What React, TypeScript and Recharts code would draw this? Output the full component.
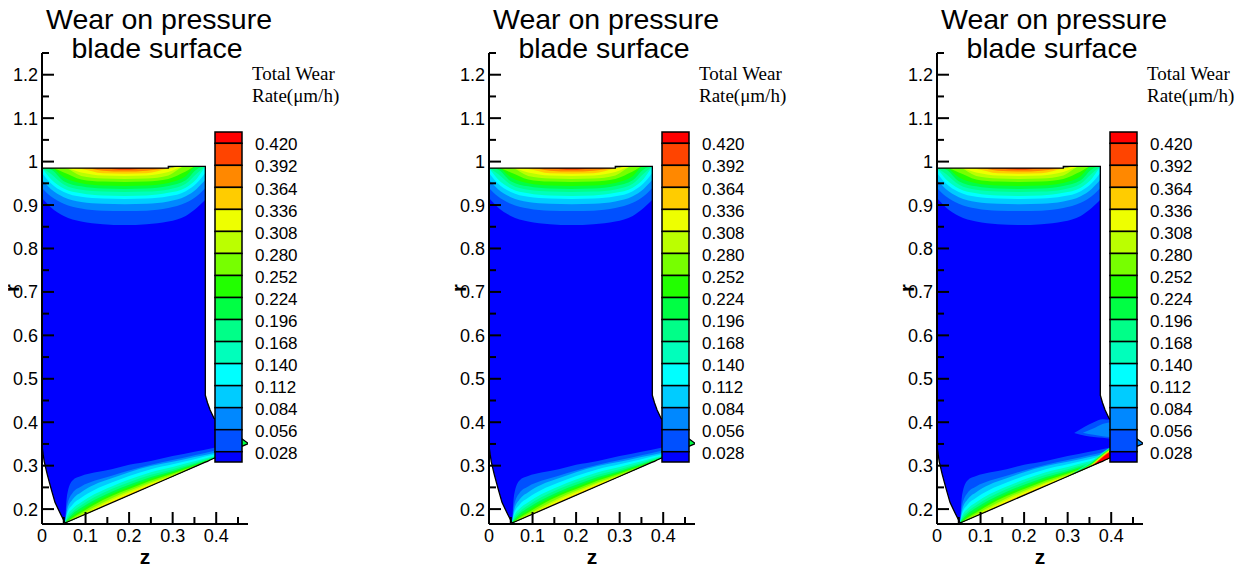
import { Area, ComposedChart, XAxis, YAxis } from "recharts"

// colour of each band, from below 0.028 up to above 0.420
const bandColors = [
  "#0000ff", "#0050ff", "#0088ff", "#00ccff", "#00ffff", "#00ffbb", "#00ff88", "#00ff44",
  "#22ff00", "#77ff00", "#bbff00", "#eeff00", "#ffcc00", "#ff8800", "#ff4400", "#ff0000",
]
const levelLabels = ["0.028", "0.056", "0.084", "0.112", "0.140", "0.168", "0.196", "0.224", "0.252", "0.280", "0.308", "0.336", "0.364", "0.392", "0.420"]

const xTicks = [0, 0.05, 0.1, 0.15, 0.2, 0.25, 0.3, 0.35, 0.4, 0.45]
const yTicks = [0.2, 0.25, 0.3, 0.35, 0.4, 0.45, 0.5, 0.55, 0.6, 0.65, 0.7, 0.75, 0.8, 0.85, 0.9, 0.95, 1, 1.05, 1.1, 1.15, 1.2, 1.25]

// blade outline (z, lower edge, upper edge)
const bladeZ = [0, 0.005, 0.012, 0.02, 0.03, 0.042, 0.053, 0.29, 0.29, 0.375, 0.375, 0.38, 0.386, 0.395, 0.474]
const bladeLow = [0.345, 0.31, 0.28, 0.25, 0.215, 0.19, 0.168, 0.271, 0.271, 0.308, 0.308, 0.31, 0.313, 0.317, 0.351]
const bladeHigh = [0.985, 0.985, 0.985, 0.985, 0.985, 0.985, 0.985, 0.985, 0.989, 0.989, 0.462, 0.445, 0.428, 0.409, 0.351]

// contour levels under the top edge
const topZ = [0, 0.02, 0.05, 0.09, 0.14, 0.19, 0.24, 0.29, 0.33, 0.355, 0.375]
const topEdge = [0.985, 0.985, 0.985, 0.985, 0.985, 0.985, 0.985, 0.985, 0.989, 0.989, 0.989]
const arc028 = [0.916, 0.895, 0.875, 0.862, 0.856, 0.854, 0.856, 0.862, 0.875, 0.893, 0.912]
const arc056 = [0.939, 0.92, 0.903, 0.892, 0.887, 0.886, 0.887, 0.893, 0.905, 0.92, 0.939]
const arc084 = [0.958, 0.937, 0.918, 0.907, 0.903, 0.902, 0.903, 0.908, 0.92, 0.937, 0.958]
const arc112 = [0.974, 0.95, 0.93, 0.919, 0.915, 0.914, 0.915, 0.92, 0.932, 0.95, 0.974]
const arc140 = [0.985, 0.96, 0.938, 0.927, 0.922, 0.921, 0.922, 0.928, 0.94, 0.96, 0.989]
const arc168 = [0.985, 0.972, 0.947, 0.935, 0.931, 0.93, 0.931, 0.936, 0.949, 0.972, 0.989]
const arc196 = [0.985, 0.982, 0.955, 0.943, 0.938, 0.937, 0.938, 0.944, 0.957, 0.982, 0.989]
const arc224 = [0.985, 0.985, 0.964, 0.95, 0.945, 0.944, 0.945, 0.951, 0.966, 0.989, 0.989]
const arc252 = [0.985, 0.985, 0.975, 0.959, 0.954, 0.953, 0.954, 0.96, 0.977, 0.989, 0.989]
const arc280 = [0.985, 0.985, 0.985, 0.967, 0.961, 0.96, 0.961, 0.968, 0.989, 0.989, 0.989]
const arc308 = [0.985, 0.985, 0.985, 0.975, 0.968, 0.967, 0.968, 0.976, 0.989, 0.989, 0.989]
const arc336 = [0.985, 0.985, 0.985, 0.983, 0.973, 0.972, 0.973, 0.984, 0.989, 0.989, 0.989]
const arc364 = [0.985, 0.985, 0.985, 0.985, 0.979, 0.977, 0.979, 0.985, 0.989, 0.989, 0.989]
const arc392 = [0.985, 0.985, 0.985, 0.985, 0.984, 0.981, 0.984, 0.985, 0.989, 0.989, 0.989]
const topArcs = [arc028, arc056, arc084, arc112, arc140, arc168, arc196, arc224, arc252, arc280, arc308, arc336, arc364, arc392]

// contour levels over the lower edge
const botZ = [0.053, 0.058, 0.07, 0.09, 0.12, 0.16, 0.2, 0.25, 0.3, 0.35, 0.398]
const botEdge = [0.168, 0.17, 0.175, 0.184, 0.197, 0.215, 0.232, 0.254, 0.275, 0.297, 0.318]
const low028 = [0.168, 0.235, 0.266, 0.276, 0.284, 0.292, 0.302, 0.311, 0.322, 0.332, 0.342]
const low056 = [0.168, 0.21, 0.237, 0.252, 0.265, 0.277, 0.289, 0.302, 0.313, 0.324, 0.335]
const low084 = [0.168, 0.199, 0.222, 0.239, 0.256, 0.271, 0.285, 0.299, 0.309, 0.32, 0.33]
const low112 = [0.168, 0.191, 0.21, 0.226, 0.244, 0.261, 0.276, 0.292, 0.303, 0.315, 0.326]
const low140 = [0.168, 0.185, 0.201, 0.216, 0.234, 0.252, 0.268, 0.285, 0.297, 0.31, 0.323]
const low168 = [0.168, 0.18, 0.194, 0.209, 0.227, 0.246, 0.262, 0.279, 0.292, 0.306, 0.321]
const low196 = [0.168, 0.176, 0.189, 0.203, 0.221, 0.24, 0.256, 0.274, 0.288, 0.303, 0.32]
const low224 = [0.168, 0.173, 0.184, 0.197, 0.215, 0.235, 0.251, 0.27, 0.285, 0.301, 0.319]
const low252 = [0.168, 0.171, 0.18, 0.192, 0.21, 0.23, 0.246, 0.266, 0.282, 0.299, 0.318]
const low280 = [0.168, 0.17, 0.177, 0.188, 0.205, 0.225, 0.242, 0.262, 0.279, 0.298, 0.318]
const low308 = [0.168, 0.17, 0.175, 0.185, 0.201, 0.221, 0.238, 0.259, 0.277, 0.297, 0.318]
const low336 = [0.168, 0.17, 0.175, 0.184, 0.198, 0.217, 0.235, 0.256, 0.275, 0.297, 0.318]
const lowBands = [low028, low056, low084, low112, low140, low168, low196, low224, low252, low280, low308, low336]

// tip sticking out past the colour bar; band index per case
const tipZ = [0.398, 0.43, 0.46, 0.474]
const tipLow = [0.318, 0.332, 0.345, 0.351]
const tipHigh = [0.407, 0.383, 0.361, 0.351]
const tipBand = [7, 7, 2]

// third case: plume off the trailing edge and a hot streak on the lower edge
const plumeZ = [0.315, 0.34, 0.36, 0.38, 0.398]
const plumeLow = [0.375, 0.369, 0.366, 0.364, 0.362]
const plumeHigh = [0.375, 0.39, 0.4, 0.407, 0.405]
const coreZ = [0.335, 0.36, 0.38, 0.398]
const coreLow = [0.376, 0.371, 0.368, 0.366]
const coreHigh = [0.376, 0.386, 0.396, 0.4]
const streakZ = [0.3, 0.33, 0.355, 0.375, 0.39, 0.398]
const streakEdge = [0.275, 0.288, 0.299, 0.308, 0.314, 0.318]
const streak140 = [0.275, 0.294, 0.31, 0.326, 0.337, 0.342]
const streak196 = [0.275, 0.292, 0.307, 0.323, 0.335, 0.34]
const streak252 = [0.275, 0.29, 0.304, 0.321, 0.333, 0.338]
const streak308 = [0.275, 0.289, 0.302, 0.319, 0.331, 0.336]
const streak364 = [0.275, 0.288, 0.3, 0.317, 0.329, 0.334]
const streak420 = [0.275, 0.288, 0.299, 0.315, 0.327, 0.332]
const streaks = [streak140, streak196, streak252, streak308, streak364, streak420]
const streakLevel = [4, 6, 8, 10, 12, 14]

const panelLeft = [0, 447, 895]
const hasStreak = [false, false, true]

const sans = "'Liberation Sans', Arial, Helvetica, sans-serif"
const serif = "'Liberation Serif', 'Times New Roman', serif"

const rows = (z: number[], lo: number[], hi: number[]) => z.map((v, i) => ({ z: v, r: [lo[i], hi[i]] }))

function XTick(props: any) {
  const { x, y, payload } = props
  const v = payload.value
  const major = Math.round(v * 100) % 10 === 0
  return (
    <g>
      <line x1={x} x2={x} y1={y} y2={y - (major ? 12 : 7)} stroke="#000" strokeWidth={2} />
      {major && (
        <text x={x} y={y + 18} textAnchor="middle" fontSize={18} fontFamily={sans} fill="#000">
          {v === 0 ? "0" : v.toFixed(1)}
        </text>
      )}
    </g>
  )
}

function YTick(props: any) {
  const { x, y, payload } = props
  const v = payload.value
  const major = Math.round(v * 100) % 10 === 0
  return (
    <g>
      <line x1={x} x2={x + (major ? 12 : 7)} y1={y} y2={y} stroke="#000" strokeWidth={2} />
      {major && (
        <text x={x - 4} y={y} dy="0.36em" textAnchor="end" fontSize={18} fontFamily={sans} fill="#000">
          {v === 1 ? "1" : v.toFixed(1)}
        </text>
      )}
    </g>
  )
}

function ColourBar() {
  const edges = [132]
  for (let k = 0; k < 15; k++) edges.push(143.3 + 22.03 * k)
  edges.push(462)
  return (
    <g>
      {edges.slice(0, 16).map((y0, k) => (
        <rect key={k} x={215} y={y0} width={27} height={edges[k + 1] - y0} fill={bandColors[15 - k]} stroke="#000" strokeWidth={1.5} />
      ))}
      {levelLabels.map((t, j) => (
        <text key={t} x={255} y={143.3 + 22.03 * (14 - j)} dy="0.42em" fontSize={17} fontFamily={sans} fill="#000">
          {t}
        </text>
      ))}
      <text x={252} y={80} fontSize={19} fontFamily={serif} fill="#000">Total Wear</text>
      <text x={252} y={102} fontSize={19} fontFamily={serif} fill="#000">Rate(μm/h)</text>
    </g>
  )
}

function Panel({ idx }: { idx: number }) {
  return (
    <div style={{ position: "absolute", left: panelLeft[idx], top: 0, width: 448, height: 572 }}>
      <ComposedChart width={252} height={572} margin={{ top: 53, right: 4, bottom: 0, left: 0 }}>
        <XAxis
          type="number"
          dataKey="z"
          domain={[0, 0.473]}
          allowDataOverflow
          ticks={xTicks}
          interval={0}
          height={48}
          tickSize={0}
          tickMargin={0}
          tickLine={false}
          axisLine={{ stroke: "#000", strokeWidth: 2 }}
          tick={(p: any) => <XTick {...p} />}
        />
        <YAxis
          type="number"
          domain={[0.1657, 1.25]}
          allowDataOverflow
          ticks={yTicks}
          interval={0}
          width={42}
          tickSize={0}
          tickMargin={0}
          tickLine={false}
          axisLine={{ stroke: "#000", strokeWidth: 2 }}
          tick={(p: any) => <YTick {...p} />}
        />
        <Area data={rows(bladeZ, bladeLow, bladeHigh)} dataKey="r" type="linear" stroke="none" fill={bandColors[0]} fillOpacity={1} dot={false} activeDot={false} isAnimationActive={false} />
        {topArcs.map((arc, k) => (
          <Area key={"t" + k} data={rows(topZ, arc, topEdge)} dataKey="r" type="monotone" stroke="none" fill={bandColors[k + 1]} fillOpacity={1} dot={false} activeDot={false} isAnimationActive={false} />
        ))}
        {lowBands.map((band, k) => (
          <Area key={"b" + k} data={rows(botZ, botEdge, band)} dataKey="r" type="monotone" stroke="none" fill={bandColors[k + 1]} fillOpacity={1} dot={false} activeDot={false} isAnimationActive={false} />
        ))}
        <Area data={rows(tipZ, tipLow, tipHigh)} dataKey="r" type="linear" stroke="none" fill={bandColors[tipBand[idx]]} fillOpacity={1} dot={false} activeDot={false} isAnimationActive={false} />
        {hasStreak[idx] && (
          <Area data={rows(plumeZ, plumeLow, plumeHigh)} dataKey="r" type="monotone" stroke="none" fill={bandColors[1]} fillOpacity={1} dot={false} activeDot={false} isAnimationActive={false} />
        )}
        {hasStreak[idx] && (
          <Area data={rows(coreZ, coreLow, coreHigh)} dataKey="r" type="monotone" stroke="none" fill={bandColors[2]} fillOpacity={1} dot={false} activeDot={false} isAnimationActive={false} />
        )}
        {hasStreak[idx] &&
          streaks.map((s, k) => (
            <Area key={"s" + k} data={rows(streakZ, streakEdge, s)} dataKey="r" type="monotone" stroke="none" fill={bandColors[streakLevel[k] + 1]} fillOpacity={1} dot={false} activeDot={false} isAnimationActive={false} />
          ))}
        <Area data={rows(bladeZ, bladeLow, bladeHigh)} dataKey="r" type="linear" stroke="#000" strokeWidth={1.3} fill="none" dot={false} activeDot={false} isAnimationActive={false} />
      </ComposedChart>
      <svg width={448} height={572} style={{ position: "absolute", left: 0, top: 0, overflow: "visible" }}>
        <text x={159} y={29} textAnchor="middle" fontSize={28.5} fontFamily={sans} fill="#000">Wear on pressure</text>
        <text x={157} y={58} textAnchor="middle" fontSize={28.5} fontFamily={sans} fill="#000">blade surface</text>
        <ColourBar />
        <text x={145} y={564} textAnchor="middle" fontSize={21} fontWeight="bold" fontFamily={sans} fill="#000">z</text>
        <text x={12} y={288} transform="rotate(-90 12 288)" textAnchor="middle" dy="0.35em" fontSize={20} fontWeight="bold" fontFamily={sans} fill="#000">r</text>
      </svg>
    </div>
  )
}

export default function App() {
  return (
    <div style={{ position: "relative", width: 1259, height: 572, margin: -8, background: "#fff", overflow: "hidden" }}>
      {panelLeft.map((_, i) => (
        <Panel key={i} idx={i} />
      ))}
    </div>
  )
}
